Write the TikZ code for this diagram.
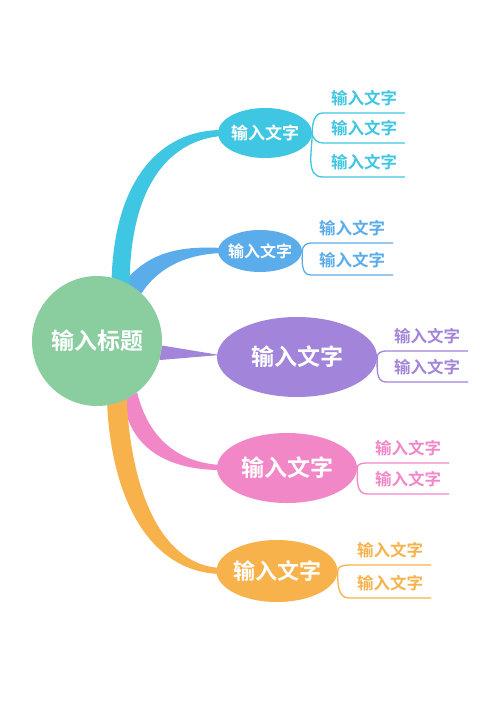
\documentclass[tikz,border=0pt]{standalone}
\usepackage{fontspec}
\usepackage{xcolor}
\usepackage{tikz}
\usetikzlibrary{shapes.geometric,backgrounds}
\newfontfamily\cjk{Noto Sans CJK SC}[BoldFont={Noto Sans CJK SC Bold}]

\tikzset{
  topic/.style={circle,fill=rootC,text=white,minimum size=130pt,inner sep=0pt,
    font=\cjk\bfseries\fontsize{23}{23}\selectfont},
  branch/.style 2 args={ellipse,fill=#1,text=white,inner xsep=-12pt,inner ysep=0pt,
    font=\cjk\bfseries\fontsize{#2}{#2}\selectfont},
  leaf/.style={text=#1,minimum width=82pt,inner xsep=0pt,inner ysep=5pt,
    text height=12pt,text depth=3pt,anchor=south,
    font=\cjk\bfseries\fontsize{16.5}{16.5}\selectfont},
  twig/.style={draw=#1,line width=1.3pt},
}

\begin{document}
\begin{tikzpicture}[x=1pt,y=-1pt]
\definecolor{rootC}{HTML}{8ACEA0}
\definecolor{cyanC}{HTML}{3EC6E2}
\definecolor{blueC}{HTML}{5AACEA}
\definecolor{purpleC}{HTML}{A284DA}
\definecolor{pinkC}{HTML}{F287C8}
\definecolor{orangeC}{HTML}{F7B24C}

\useasboundingbox (0,0) rectangle (500,707);

% centre and main branches
\node[topic] (root) at (97,341) {输入标题};
\node[branch={cyanC}{17},minimum width=94pt,minimum height=50pt] (b1) at (265,133) {输入文字};
\node[branch={blueC}{16},minimum width=84pt,minimum height=42pt] (b2) at (260,251) {输入文字};
\node[branch={purpleC}{23},minimum width=160pt,minimum height=80pt] (b3) at (297,357) {输入文字};
\node[branch={pinkC}{23},minimum width=140pt,minimum height=70pt] (b4) at (287,468) {输入文字};
\node[branch={orangeC}{22},minimum width=121pt,minimum height=62pt] (b5) at (277,571) {输入文字};

% tapered connectors, behind the nodes
\begin{pgfonlayer}{background}
\fill[white] (0,0) rectangle (500,707);
\fill[blueC] (root.65) .. controls (150,250) and (185,246) .. ([xshift=4pt,yshift=3pt]b2.west)
  -- ([xshift=4pt,yshift=-2pt]b2.west) .. controls (190,254) and (160,265) .. (root.47) -- cycle;
\fill[cyanC] (root.77) .. controls (115,180) and (160,130) .. ([xshift=4pt,yshift=3pt]b1.west)
  -- ([xshift=4pt,yshift=-3pt]b1.west) .. controls (170,140) and (130,185) .. (root.60) -- cycle;
\fill[purpleC] (root.-4) -- ([xshift=3pt,yshift=2pt]b3.west) -- (root.-17) -- cycle;
\fill[pinkC] (root.-52) .. controls (150,445) and (185,463) .. ([xshift=4pt,yshift=3pt]b4.west)
  -- ([xshift=4pt,yshift=-2pt]b4.west) .. controls (170,470) and (130,450) .. (root.-66) -- cycle;
\fill[orangeC] (root.-81) .. controls (112,500) and (150,572) .. ([xshift=4pt,yshift=-3pt]b5.west)
  -- ([xshift=4pt,yshift=3pt]b5.west) .. controls (165,565) and (132,500) .. (root.-63) -- cycle;
\end{pgfonlayer}

% sub topics
\node[leaf=cyanC] (c1) at (364,113) {输入文字};
\node[leaf=cyanC] (c2) at (364,143) {输入文字};
\node[leaf=cyanC] (c3) at (364,177) {输入文字};
\draw[twig=cyanC] (b1.east) to[out=90,in=180] (c1.south west) -- (c1.south east);
\draw[twig=cyanC] (b1.east) to[out=-90,in=180] (c2.south west) -- (c2.south east);
\draw[twig=cyanC] (b1.east) to[out=-90,in=180] (c3.south west) -- (c3.south east);

\node[leaf=blueC] (d1) at (352,243) {输入文字};
\node[leaf=blueC] (d2) at (352,275) {输入文字};
\draw[twig=blueC] (b2.east) to[out=90,in=180] (d1.south west) -- (d1.south east);
\draw[twig=blueC] (b2.east) to[out=-90,in=180] (d2.south west) -- (d2.south east);

\node[leaf=purpleC] (e1) at (427,351) {输入文字};
\node[leaf=purpleC] (e2) at (427,382) {输入文字};
\draw[twig=purpleC] (b3.east) to[out=90,in=180] (e1.south west) -- (e1.south east);
\draw[twig=purpleC] (b3.east) to[out=-90,in=180] (e2.south west) -- (e2.south east);

\node[leaf=pinkC] (f1) at (408,463) {输入文字};
\node[leaf=pinkC] (f2) at (408,494) {输入文字};
\draw[twig=pinkC] (b4.east) to[out=90,in=180] (f1.south west) -- (f1.south east);
\draw[twig=pinkC] (b4.east) to[out=-90,in=180] (f2.south west) -- (f2.south east);

\node[leaf=orangeC] (g1) at (390,565) {输入文字};
\node[leaf=orangeC] (g2) at (390,598) {输入文字};
\draw[twig=orangeC] (b5.east) to[out=90,in=180] (g1.south west) -- (g1.south east);
\draw[twig=orangeC] (b5.east) to[out=-90,in=180] (g2.south west) -- (g2.south east);
\end{tikzpicture}
\end{document}
